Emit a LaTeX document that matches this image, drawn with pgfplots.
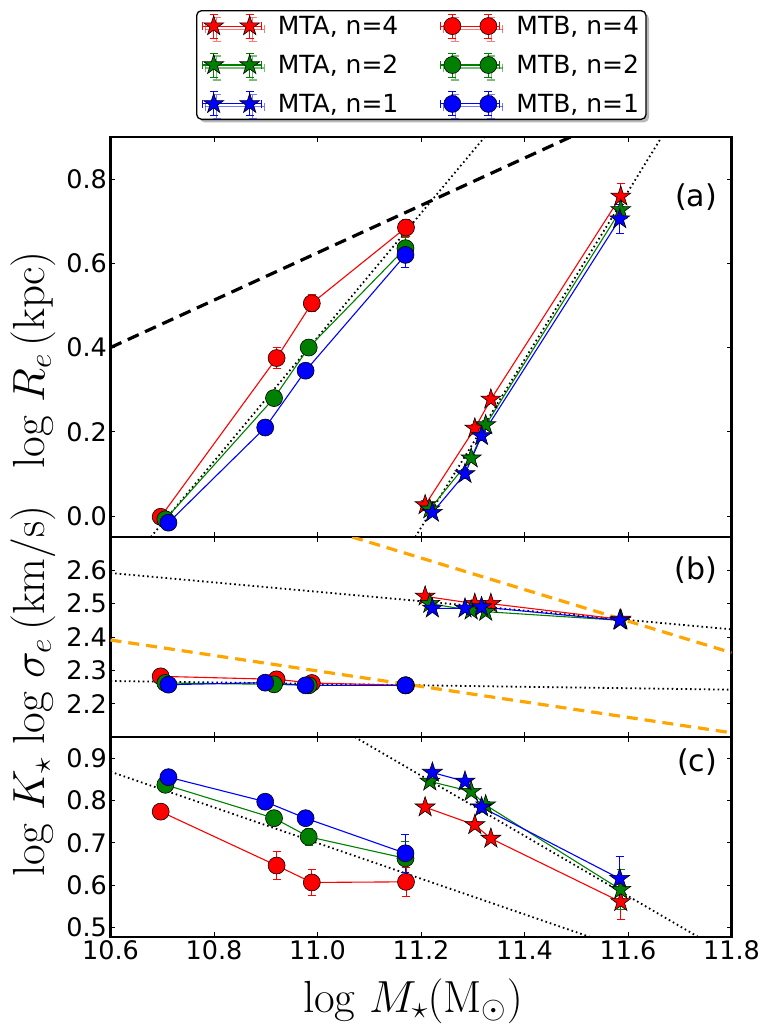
\RequirePackage{fix-cm}
\documentclass[border=0pt]{standalone}
\usepackage{fontspec}
\usepackage{pgfplots}
\pgfplotsset{compat=1.18}
\usetikzlibrary{shadows}
\newfontfamily\dejavu{DejaVu Sans}
\definecolor{mplorange}{RGB}{255,165,0}
\definecolor{mplgreen}{RGB}{0,128,0}

\pgfdeclareplotmark{fstar}{%
  \pgfsetcornersarced{\pgfpointorigin}%
  \pgfpathmoveto{\pgfpointpolar{90}{\pgfplotmarksize}}%
  \pgfpathlineto{\pgfpointpolar{126}{0.382\pgfplotmarksize}}%
  \pgfpathlineto{\pgfpointpolar{162}{\pgfplotmarksize}}%
  \pgfpathlineto{\pgfpointpolar{198}{0.382\pgfplotmarksize}}%
  \pgfpathlineto{\pgfpointpolar{234}{\pgfplotmarksize}}%
  \pgfpathlineto{\pgfpointpolar{270}{0.382\pgfplotmarksize}}%
  \pgfpathlineto{\pgfpointpolar{306}{\pgfplotmarksize}}%
  \pgfpathlineto{\pgfpointpolar{342}{0.382\pgfplotmarksize}}%
  \pgfpathlineto{\pgfpointpolar{18}{\pgfplotmarksize}}%
  \pgfpathlineto{\pgfpointpolar{54}{0.382\pgfplotmarksize}}%
  \pgfpathclose
  \pgfusepathqfillstroke
}

\tikzset{plab/.style={anchor=east, inner sep=0pt, font=\dejavu\fontsize{30}{36}\selectfont}}
\pgfplotsset{
  panel/.style={scale only axis, width=621pt, xmin=10.6, xmax=11.8, anchor=north west,
    axis line style={line width=2.6pt}, tick align=inside, major tick length=5pt,
    every tick/.style={black, line width=0.8pt},
    tick label style={font=\dejavu\fontsize{25.5}{30}\selectfont},
    label style={font=\fontsize{45}{54}\selectfont},
    xtick={10.6,10.8,11.0,11.2,11.4,11.6,11.8}},
  ser/.style n args={3}{color=#1, line width=1.1pt, mark=#2, mark size=#3,
    mark options={solid, fill=#1, draw=black, line width=0.6pt},
    error bars/.cd, y dir=both, y explicit,
    error bar style={color=#1, line width=0.9pt},
    error mark options={rotate=90, color=#1, mark size=4pt, line width=0.9pt}},
  dotln/.style={forget plot, black, line width=1.8pt, dash pattern=on 1.6pt off 3pt, mark=none},
  dashk/.style={forget plot, black, line width=3.2pt, dash pattern=on 12pt off 7pt, mark=none},
  dasho/.style={forget plot, mplorange, line width=3.2pt, dash pattern=on 11pt off 7pt, mark=none}
}

\begin{document}
\begin{tikzpicture}
\useasboundingbox (0pt,0pt) rectangle (768pt,-1034pt);

% ---------------- panel (a)
\begin{axis}[panel, at={(110.5pt,-137pt)}, height=400pt, ymin=-0.05, ymax=0.9,
  ytick={0,0.2,0.4,0.6,0.8}, yticklabels={0.0,0.2,0.4,0.6,0.8}, xticklabels={},
  ylabel={$\mathrm{log}\ R_e\,(\mathrm{kpc})$},
  ylabel style={at={(axis description cs:-0.107,0.4425)}, anchor=base},
  legend columns=2, legend cell align=left,
  legend style={at={(axis description cs:0.1377,1.3175)}, anchor=north west,
    draw=black, line width=1.3pt, rounded corners=5pt, fill=white,
    drop shadow={shadow xshift=3pt, shadow yshift=-3pt, fill=black!55},
    font=\dejavu\fontsize{25}{30}\selectfont, inner xsep=5pt, inner ysep=3pt,
    row sep=14pt, nodes={inner sep=2pt, text depth=0.15em},
    /tikz/every odd column/.append style={column sep=14pt},
    /tikz/every even column/.append style={column sep=40pt}},
  legend image code/.code={%
    \begin{scope}[sharp corners]
    \draw[#1, mark=none, line width=1.1pt] (0pt,0pt) -- (59pt,0pt);
    \draw[#1, mark=none, line width=0.9pt] (0pt,-4pt) -- (0pt,4pt) (59pt,-4pt) -- (59pt,4pt);
    \draw[#1, mark=none, line width=0.9pt] (11.5pt,-12pt) -- (11.5pt,12pt) (47.5pt,-12pt) -- (47.5pt,12pt)
      (7.5pt,-12pt) -- (15.5pt,-12pt) (7.5pt,12pt) -- (15.5pt,12pt)
      (43.5pt,-12pt) -- (51.5pt,-12pt) (43.5pt,12pt) -- (51.5pt,12pt);
    \draw[#1, only marks] plot coordinates {(11.5pt,0pt) (47.5pt,0pt)};
    \end{scope}}]
\addplot[dashk] coordinates {(10.6,0.4) (11.8,1.075)};
\addplot[dotln] coordinates {(10.678,-0.05) (11.323,0.9)};
\addplot[dotln] coordinates {(11.189,-0.05) (11.665,0.9)};

\addplot[ser={red}{fstar}{10.5pt}] coordinates {(11.208,0.026) +- (0,0.01) (11.304,0.208) +- (0,0.01) (11.335,0.277) +- (0,0.01) (11.586,0.759) +- (0,0.03)};
\addlegendentry{MTA, n=4}
\addplot[ser={red}{*}{8.5pt}] coordinates {(10.697,-0.002) +- (0,0.01) (10.921,0.375) +- (0,0.025) (10.989,0.505) +- (0,0.02) (11.171,0.685) +- (0,0.02)};
\addlegendentry{MTB, n=4}
\addplot[ser={mplgreen}{fstar}{10.5pt}] coordinates {(11.217,0.016) +- (0,0.01) (11.297,0.137) +- (0,0.01) (11.325,0.216) +- (0,0.01) (11.586,0.727) +- (0,0.02)};
\addlegendentry{MTA, n=2}
\addplot[ser={mplgreen}{*}{8.5pt}] coordinates {(10.706,-0.008) +- (0,0.01) (10.916,0.28) +- (0,0.01) (10.983,0.40) +- (0,0.01) (11.170,0.636) +- (0,0.025)};
\addlegendentry{MTB, n=2}
\addplot[ser={blue}{fstar}{10.5pt}] coordinates {(11.222,0.008) +- (0,0.01) (11.285,0.10) +- (0,0.01) (11.317,0.19) +- (0,0.01) (11.584,0.705) +- (0,0.035)};
\addlegendentry{MTA, n=1}
\addplot[ser={blue}{*}{8.5pt}] coordinates {(10.712,-0.016) +- (0,0.01) (10.899,0.21) +- (0,0.01) (10.977,0.345) +- (0,0.01) (11.170,0.62) +- (0,0.03)};
\addlegendentry{MTB, n=1}
\node[plab] at (rel axis cs:0.977,0.851) {(a)};
\end{axis}

% ---------------- panel (b)
\begin{axis}[panel, at={(110.5pt,-537pt)}, height=200pt, ymin=2.1, ymax=2.7,
  ytick={2.2,2.3,2.4,2.5,2.6}, yticklabels={2.2,2.3,2.4,2.5,2.6}, xticklabels={},
  ylabel={$\mathrm{log}\ \sigma_e\,(\mathrm{km/s})$},
  ylabel style={at={(axis description cs:-0.107,0.56)}, anchor=base}]
\addplot[dotln] coordinates {(10.6,2.592) (11.8,2.423)};
\addplot[dotln] coordinates {(10.6,2.268) (11.8,2.242)};
\addplot[dasho] coordinates {(11.067,2.7) (11.8,2.353)};
\addplot[dasho] coordinates {(10.6,2.391) (11.8,2.1126)};

\addplot[ser={red}{fstar}{10.5pt}] coordinates {(11.208,2.522) +- (0,0.005) (11.304,2.50) +- (0,0.005) (11.335,2.50) +- (0,0.005) (11.586,2.453) +- (0,0.005)};
\addplot[ser={red}{*}{8.5pt}] coordinates {(10.697,2.282) +- (0,0.005) (10.921,2.273) +- (0,0.005) (10.989,2.262) +- (0,0.005) (11.171,2.255) +- (0,0.005)};
\addplot[ser={mplgreen}{fstar}{10.5pt}] coordinates {(11.217,2.50) +- (0,0.005) (11.297,2.48) +- (0,0.005) (11.325,2.476) +- (0,0.005) (11.586,2.45) +- (0,0.005)};
\addplot[ser={mplgreen}{*}{8.5pt}] coordinates {(10.706,2.262) +- (0,0.005) (10.916,2.258) +- (0,0.005) (10.983,2.255) +- (0,0.005) (11.170,2.255) +- (0,0.005)};
\addplot[ser={blue}{fstar}{10.5pt}] coordinates {(11.222,2.486) +- (0,0.005) (11.285,2.486) +- (0,0.005) (11.317,2.49) +- (0,0.005) (11.584,2.45) +- (0,0.005)};
\addplot[ser={blue}{*}{8.5pt}] coordinates {(10.712,2.257) +- (0,0.005) (10.899,2.263) +- (0,0.005) (10.977,2.255) +- (0,0.005) (11.170,2.255) +- (0,0.005)};
\node[plab] at (rel axis cs:0.977,0.834) {(b)};
\end{axis}

% ---------------- panel (c)
\begin{axis}[panel, at={(110.5pt,-737pt)}, height=200pt, ymin=0.477, ymax=0.95,
  ytick={0.5,0.6,0.7,0.8,0.9}, yticklabels={0.5,0.6,0.7,0.8,0.9},
  xticklabels={10.6,10.8,11.0,11.2,11.4,11.6,11.8},
  ylabel={$\mathrm{log}\ K_\star$},
  ylabel style={at={(axis description cs:-0.107,0.60)}, anchor=base},
  xlabel={$\mathrm{log}\ M_\star(\mathrm{M}_\odot)$},
  xlabel style={at={(axis description cs:0.487,-0.375)}, anchor=base}]
\addplot[dotln] coordinates {(10.6,0.868) (11.527,0.477)};
\addplot[dotln] coordinates {(11.072,0.95) (11.736,0.477)};

\addplot[ser={red}{fstar}{10.5pt}] coordinates {(11.208,0.784) +- (0,0.005) (11.304,0.742) +- (0,0.008) (11.335,0.710) +- (0,0.008) (11.586,0.560) +- (0,0.042)};
\addplot[ser={red}{*}{8.5pt}] coordinates {(10.697,0.7735) +- (0,0.005) (10.921,0.646) +- (0,0.033) (10.989,0.606) +- (0,0.03) (11.171,0.6075) +- (0,0.035)};
\addplot[ser={mplgreen}{fstar}{10.5pt}] coordinates {(11.217,0.845) +- (0,0.008) (11.297,0.821) +- (0,0.008) (11.325,0.789) +- (0,0.008) (11.586,0.589) +- (0,0.047)};
\addplot[ser={mplgreen}{*}{8.5pt}] coordinates {(10.706,0.837) +- (0,0.008) (10.916,0.758) +- (0,0.018) (10.983,0.714) +- (0,0.02) (11.170,0.663) +- (0,0.04)};
\addplot[ser={blue}{fstar}{10.5pt}] coordinates {(11.222,0.866) +- (0,0.008) (11.285,0.845) +- (0,0.008) (11.317,0.784) +- (0,0.008) (11.584,0.615) +- (0,0.052)};
\addplot[ser={blue}{*}{8.5pt}] coordinates {(10.712,0.855) +- (0,0.008) (10.899,0.797) +- (0,0.008) (10.977,0.758) +- (0,0.008) (11.170,0.675) +- (0,0.045)};
\node[plab] at (rel axis cs:0.977,0.875) {(c)};
\end{axis}
\end{tikzpicture}
\end{document}
